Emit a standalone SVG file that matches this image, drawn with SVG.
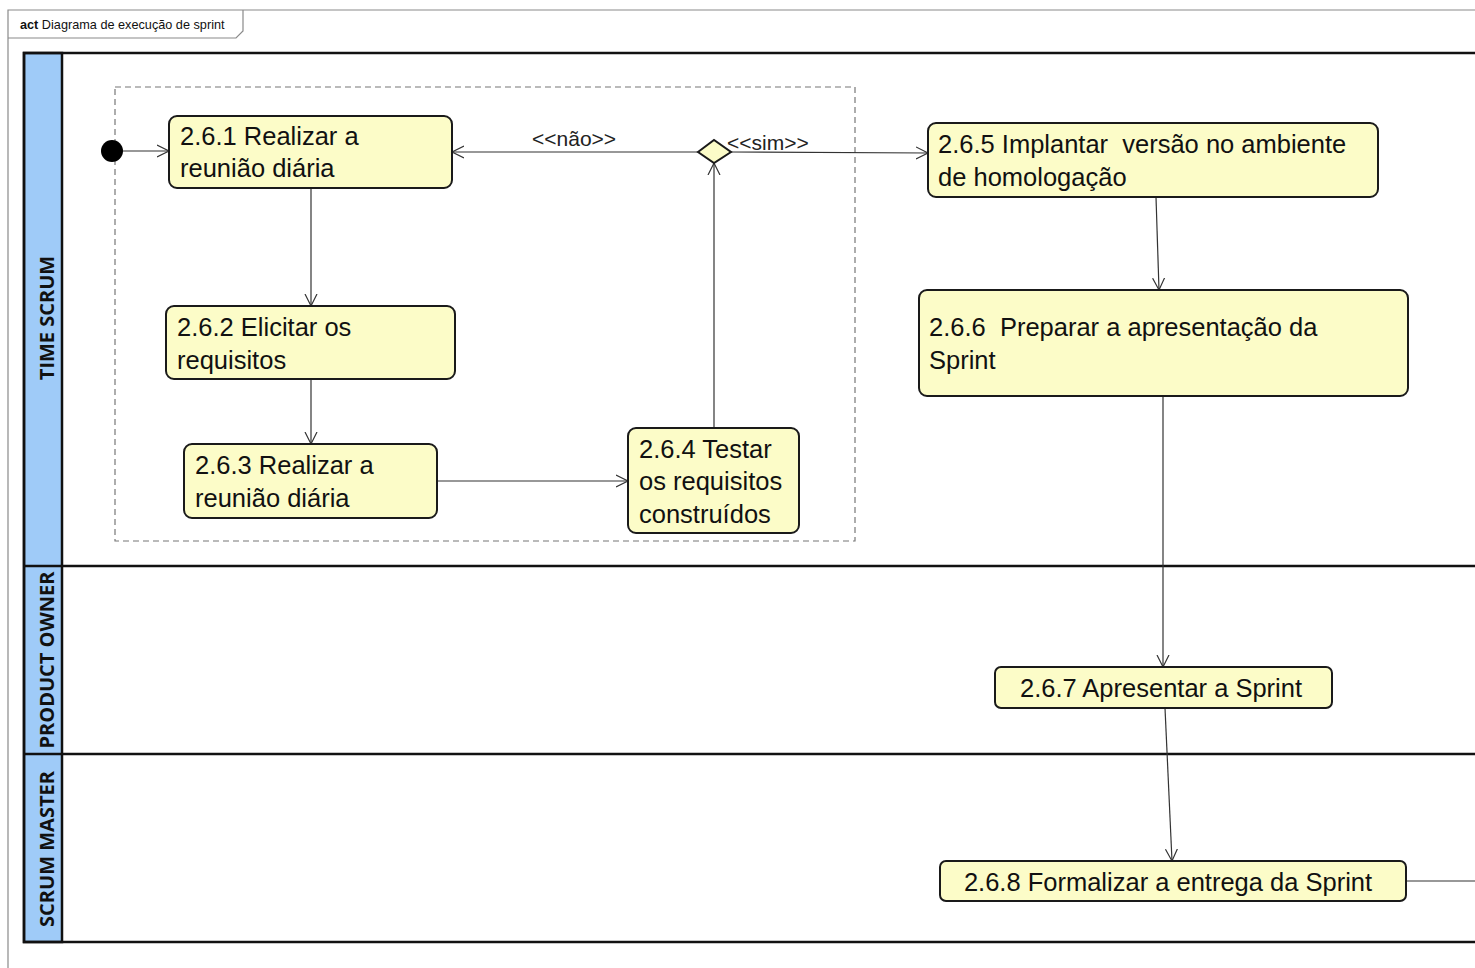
<svg xmlns="http://www.w3.org/2000/svg" width="1475" height="968" viewBox="0 0 1475 968">
  <defs>
    <marker id="arrow" markerWidth="14" markerHeight="14" refX="12" refY="7" orient="auto" markerUnits="userSpaceOnUse">
      <path d="M0,1 L12,7 L0,13" fill="none" stroke="#333" stroke-width="1.2"/>
    </marker>
    <style>
      .frame { fill: none; stroke: #8a8a8a; stroke-width: 1.2; }
      .lane { fill: none; stroke: #111; stroke-width: 2.5; }
      .header { fill: #9fcbf8; stroke: #111; stroke-width: 2.5; }
      .laneLabel { font-family: "Open Sans", "Liberation Sans", sans-serif; font-weight: 700; font-size: 20px; fill: #111; }
      .region { fill: none; stroke: #777; stroke-width: 1.2; stroke-dasharray: 6 4; }
      .action { fill: #fcfcc8; stroke: #1a1a1a; stroke-width: 2; }
      .label { font-family: "Liberation Sans", Arial, sans-serif; font-size: 25.5px; fill: #111; }
      .guard { font-family: "Liberation Sans", Arial, sans-serif; font-size: 21px; fill: #222; }
      .flow { fill: none; stroke: #333; stroke-width: 1.2; }
      .title { font-family: "Liberation Sans", Arial, sans-serif; font-size: 12.7px; fill: #111; }
    </style>
  </defs>

  <rect width="1475" height="968" fill="#ffffff"/>

  <!-- frame with name tab -->
  <g id="frame">
    <path class="frame" d="M8,968 L8,10 L1475,10"/>
    <path class="frame" d="M8,38 L236,38 L243,31 L243,10"/>
    <text class="title" x="20" y="29"><tspan font-weight="700">act</tspan> Diagrama de execução de sprint</text>
  </g>

  <!-- swimlanes -->
  <g id="lanes">
    <rect class="header" x="24" y="53" width="38" height="889"/>
    <path class="lane" d="M1475,53 L24,53 L24,942 L1475,942"/>
    <line class="lane" x1="24" y1="566" x2="1475" y2="566"/>
    <line class="lane" x1="24" y1="754" x2="1475" y2="754"/>
    <text class="laneLabel" text-anchor="middle" transform="translate(54,318) rotate(-90)">TIME SCRUM</text>
    <text class="laneLabel" text-anchor="middle" transform="translate(54,660) rotate(-90)">PRODUCT OWNER</text>
    <text class="laneLabel" text-anchor="middle" transform="translate(54,849) rotate(-90)">SCRUM MASTER</text>
  </g>

  <!-- dashed region -->
  <rect id="region" class="region" x="115" y="87" width="740" height="454"/>

  <!-- connectors -->
  <g id="connectors">
    <line class="flow" x1="123" y1="151" x2="169" y2="151" marker-end="url(#arrow)"/>
    <line class="flow" x1="311" y1="188" x2="311" y2="306" marker-end="url(#arrow)"/>
    <line class="flow" x1="311" y1="379" x2="311" y2="444" marker-end="url(#arrow)"/>
    <line class="flow" x1="437" y1="481" x2="628" y2="481" marker-end="url(#arrow)"/>
    <line class="flow" x1="714" y1="428" x2="714" y2="163" marker-end="url(#arrow)"/>
    <line class="flow" x1="698" y1="152" x2="452" y2="152" marker-end="url(#arrow)"/>
    <line class="flow" x1="730" y1="152" x2="928" y2="153" marker-end="url(#arrow)"/>
    <line class="flow" x1="1156" y1="197" x2="1159" y2="290" marker-end="url(#arrow)"/>
    <line class="flow" x1="1163" y1="396" x2="1163" y2="667" marker-end="url(#arrow)"/>
    <line class="flow" x1="1165" y1="708" x2="1172" y2="861" marker-end="url(#arrow)"/>
    <line class="flow" x1="1406" y1="881" x2="1475" y2="881"/>
    <text class="guard" x="532" y="146">&lt;&lt;não&gt;&gt;</text>
    <text class="guard" x="727" y="150">&lt;&lt;sim&gt;&gt;</text>
  </g>

  <!-- nodes -->
  <g id="start">
    <circle cx="112" cy="151" r="11" fill="#000"/>
  </g>

  <g id="n261">
    <rect class="action" x="169" y="116" width="283" height="72" rx="8"/>
    <text class="label" x="180" y="145">2.6.1 Realizar a</text>
    <text class="label" x="180" y="177">reunião diária</text>
  </g>

  <g id="n262">
    <rect class="action" x="166" y="306" width="289" height="73" rx="8"/>
    <text class="label" x="177" y="336">2.6.2 Elicitar os</text>
    <text class="label" x="177" y="369">requisitos</text>
  </g>

  <g id="n263">
    <rect class="action" x="184" y="444" width="253" height="74" rx="8"/>
    <text class="label" x="195" y="474">2.6.3 Realizar a</text>
    <text class="label" x="195" y="507">reunião diária</text>
  </g>

  <g id="n264">
    <rect class="action" x="628" y="428" width="171" height="105" rx="8"/>
    <text class="label" x="639" y="458">2.6.4 Testar</text>
    <text class="label" x="639" y="490">os requisitos</text>
    <text class="label" x="639" y="523">construídos</text>
  </g>

  <g id="decision">
    <path class="action" d="M698,152 L714,140 L731,152 L714,163 Z"/>
  </g>

  <g id="n265">
    <rect class="action" x="928" y="123" width="450" height="74" rx="8"/>
    <text class="label" x="938" y="153" xml:space="preserve">2.6.5 Implantar  versão no ambiente</text>
    <text class="label" x="938" y="186">de homologação</text>
  </g>

  <g id="n266">
    <rect class="action" x="919" y="290" width="489" height="106" rx="8"/>
    <text class="label" x="929" y="336" xml:space="preserve">2.6.6  Preparar a apresentação da</text>
    <text class="label" x="929" y="369">Sprint</text>
  </g>

  <g id="n267">
    <rect class="action" x="995" y="667" width="337" height="41" rx="6"/>
    <text class="label" x="1161" y="697" text-anchor="middle">2.6.7 Apresentar a Sprint</text>
  </g>

  <g id="n268">
    <rect class="action" x="940" y="861" width="466" height="40" rx="6"/>
    <text class="label" x="1168" y="891" text-anchor="middle">2.6.8 Formalizar a entrega da Sprint</text>
  </g>
</svg>
